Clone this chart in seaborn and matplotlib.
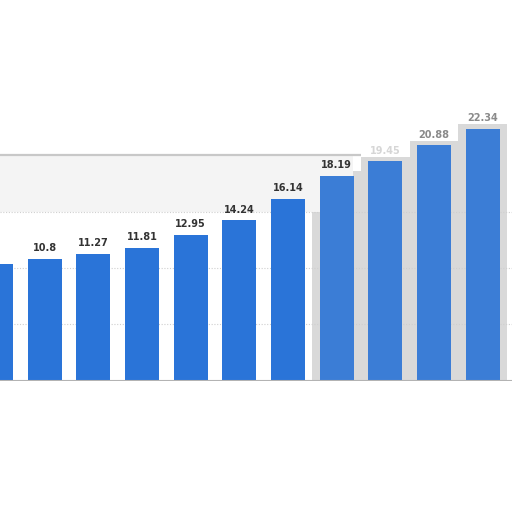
import numpy as np
import pandas as pd
import seaborn as sns
from matplotlib import pyplot as plt

# values (first bar is cut at the left edge)
positions = list(range(11))
values = [10.39, 10.8, 11.27, 11.81, 12.95, 14.24, 16.14, 18.19, 19.45, 20.88, 22.34]
label_colors = ["#333333"] * 8 + ["#d6d6d6", "#8a8a8a", "#8a8a8a"]
blurred = [7, 8, 9, 10]

df = pd.DataFrame({"pos": positions, "value": values})

sns.set_theme(style="white")
fig = plt.figure(figsize=(5.12, 5.12), dpi=100)
# axes placed so the bars land where they sit in the reference
ax = fig.add_axes([0, (512 - 380.7) / 512, 1, 280.7 / 512])

# grey haze behind the blurred bars
haze = df[df["pos"].isin(blurred)]
ax.bar(haze["pos"], haze["value"] + 0.4, width=1.0, color="#d9d9d9",
       linewidth=0, zorder=0)
ax.axhspan(15, 20, xmin=0, xmax=0.69, color="#f4f4f4", lw=0, zorder=0)

for y in [5, 10, 15]:
    ax.axhline(y, color="#cfcfcf", lw=0.8, ls=(0, (1, 1.5)), zorder=1)
ax.hlines(20, -1, 7.5, color="#c8c8c8", lw=1.6, zorder=1)

sns.barplot(data=df, x="pos", y="value", color="#2a74d8", saturation=1,
            width=0.7, linewidth=0, ax=ax, zorder=2)

cont = ax.containers[-1]
for i in blurred:
    cont.patches[i].set_facecolor("#3b7dd6")
labels = ax.bar_label(cont, labels=[f"{v:g}" for v in values], padding=4,
                      fontsize=7, fontweight="bold")
for t, c in zip(labels, label_colors):
    t.set_color(c)

ax.axhline(0, color="#b3b3b3", lw=1.5, zorder=3)

ax.set_xlim(4 / 48.67, 516 / 48.67)
ax.set_ylim(0, 280.7 / 11.27)
ax.set_xlabel("")
ax.set_ylabel("")
ax.set_xticks([])
ax.set_yticks([])
for s in ax.spines.values():
    s.set_visible(False)

fig.savefig("out.png", dpi=100)
